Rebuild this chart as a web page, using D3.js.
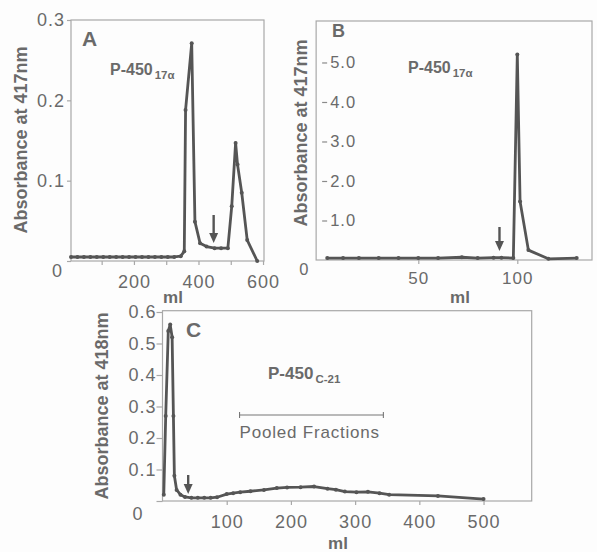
<!DOCTYPE html>
<html>
<head>
<meta charset="utf-8">
<script src="https://cdn.jsdelivr.net/npm/d3@7"></script>
<style>
  body { margin: 0; background: #fdfdfd; }
  svg { display: block; }
  text { font-family: "Liberation Sans", Arial, sans-serif; fill: #6a6a6a; }
</style>
</head>
<body>
<script>
// elution profiles, values
var a_volume = [5, 25, 45, 65, 85, 105, 125, 145, 165, 185, 205, 225, 245, 265, 285, 305, 325, 345,
                356, 360, 379, 389, 405, 425, 450, 470, 491, 503, 515, 521, 534, 551, 582];
var a_abs = [0.005, 0.005, 0.005, 0.005, 0.005, 0.005, 0.005, 0.005, 0.005, 0.005, 0.005, 0.005,
             0.005, 0.005, 0.005, 0.005, 0.005, 0.006,
             0.012, 0.188, 0.271, 0.049, 0.022, 0.018, 0.016, 0.016, 0.016, 0.068, 0.147, 0.12, 0.085, 0.026, 0.0];

var b_volume = [4, 12, 20, 30, 40, 50, 60, 72, 80, 88, 92, 98, 100, 101.4, 105.6, 115.7, 130];
var b_abs = [0.05, 0.05, 0.05, 0.05, 0.05, 0.05, 0.05, 0.07, 0.05, 0.06, 0.06, 0.05, 5.2, 1.48, 0.25, 0.03, 0.05];

var c_volume = [2, 5, 9, 12, 15, 17, 18.5, 22, 28, 35, 45, 55, 65, 75, 85, 100, 110, 121, 137, 158, 178, 194,
                215, 236, 257, 270, 284, 302, 320, 338, 353, 429, 500];
var c_abs = [0.02, 0.27, 0.54, 0.56, 0.52, 0.27, 0.08, 0.035, 0.02, 0.013, 0.01, 0.01, 0.01, 0.01, 0.012,
             0.022, 0.025, 0.028, 0.031, 0.035, 0.041, 0.043, 0.044, 0.046, 0.039, 0.036, 0.03, 0.028,
             0.029, 0.025, 0.02, 0.016, 0.006];

var a_yticks = [0, 0.1, 0.2, 0.3];
var a_xticks = [100, 200, 300, 400, 500, 600];
var a_xlabels = [200, 400, 600];
var b_yticks = [0, 1, 2, 3, 4, 5];
var b_xticks = [50, 100];
var c_yticks = [0, 0.1, 0.2, 0.3, 0.4, 0.5, 0.6];
var c_xticks = [100, 200, 300, 400, 500];
var pooled_range = [120, 344];

var line_color = "#555";
var frame_color = "#a8a8a8";

var svg = d3.select("body").append("svg").attr("width", 597).attr("height", 552);

function drawSeries(g, x, y, vol, abs)
{
  var pts = vol.map(function(v, i) { return [v, abs[i]]; });
  var line = d3.line().x(function(d) { return x(d[0]); }).y(function(d) { return y(d[1]); });
  g.append("path").datum(pts)
    .attr("d", line)
    .attr("fill", "none")
    .attr("stroke", line_color)
    .attr("stroke-width", 2.8)
    .attr("stroke-linejoin", "round");
  g.selectAll("circle.pt").data(pts).enter().append("circle")
    .attr("class", "pt")
    .attr("cx", function(d) { return x(d[0]); })
    .attr("cy", function(d) { return y(d[1]); })
    .attr("r", 2)
    .attr("fill", line_color);
}

function drawFrame(g, x0, x1, y0, y1)
{
  g.append("rect")
    .attr("x", x0).attr("y", y0)
    .attr("width", x1 - x0).attr("height", y1 - y0)
    .attr("fill", "none")
    .attr("stroke", frame_color)
    .attr("stroke-width", 1.2);
}

function drawArrow(g, xp, ytop, ybot)
{
  g.append("line").attr("x1", xp).attr("x2", xp).attr("y1", ytop).attr("y2", ybot - 6)
    .attr("stroke", line_color).attr("stroke-width", 2.4);
  g.append("path")
    .attr("d", "M" + (xp - 4.5) + "," + (ybot - 10) + "L" + (xp + 4.5) + "," + (ybot - 10) + "L" + xp + "," + ybot + "Z")
    .attr("fill", line_color);
}

function pLabel(g, xp, yp, size, sub, subSize)
{
  var t = g.append("text").attr("x", xp).attr("y", yp)
    .attr("font-size", size).attr("font-weight", "bold");
  t.append("tspan").text("P-450");
  t.append("tspan").attr("dy", 4).attr("dx", 2).attr("font-size", subSize).text(sub);
}

function styleAxis(sel)
{
  sel.select(".domain").remove();
  sel.selectAll(".tick line").attr("stroke", frame_color).attr("stroke-width", 1.2);
  sel.selectAll(".tick text").style("fill", "#6a6a6a")
    .style("font-family", "Liberation Sans, Arial, sans-serif")
    .style("letter-spacing", "1px");
}

function yLabel(g, cx, cy, txt)
{
  g.append("text")
    .attr("transform", "translate(" + cx + "," + cy + ") rotate(-90)")
    .attr("text-anchor", "middle")
    .attr("dy", "0.35em")
    .attr("font-size", 18)
    .attr("font-weight", "bold")
    .text(txt);
}

function xLabel(g, cx, by)
{
  g.append("text").attr("x", cx).attr("y", by)
    .attr("text-anchor", "middle")
    .attr("font-size", 17)
    .attr("font-weight", "bold")
    .text("ml");
}

// Panel A
var ax = d3.scaleLinear().domain([5, 603]).range([71, 264]);
var ay = d3.scaleLinear().domain([0, 0.3]).range([261, 20]);
var gA = svg.append("g");
drawFrame(gA, ax(5), ax(603), ay(0.3), ay(0));

gA.append("g").attr("transform", "translate(0," + ay(0) + ")")
  .call(d3.axisBottom(ax).tickValues(a_xticks).tickSize(4).tickPadding(10)
        .tickFormat(function(d) { return a_xlabels.indexOf(d) >= 0 ? d : ""; }))
  .call(styleAxis)
  .selectAll("text").attr("font-size", 18);

gA.append("g").attr("transform", "translate(" + ax(5) + ",0)")
  .call(d3.axisLeft(ay).tickValues(a_yticks).tickSize(4).tickPadding(4)
        .tickFormat(function(d) { return d === 0 ? "0" : d3.format(".1f")(d); }))
  .call(styleAxis)
  .selectAll("text").attr("font-size", 18)
  .attr("dy", function(d) { return d === 0 ? "0.85em" : "0.32em"; })
  .attr("x", function(d) { return d === 0 ? -8 : -6; });

drawSeries(gA, ax, ay, a_volume, a_abs);
drawArrow(gA, ax(447), 215, 243);
gA.append("text").attr("x", 82).attr("y", 46).attr("font-size", 21).attr("font-weight", "bold").text("A");
pLabel(gA, 110, 75, 16, "17\u03b1", 11.5);
yLabel(gA, 21, 140, "Absorbance at 417nm");
xLabel(gA, 173, 303);

// Panel B
var bx = d3.scaleLinear().domain([0, 140]).range([319.3, 596.5]);
var by = d3.scaleLinear().domain([0, 6.05]).range([260, 21]);
var gB = svg.append("g");
drawFrame(gB, bx(-1.6), 592, by(6.05), by(0));

gB.append("g").attr("transform", "translate(0," + by(0) + ")")
  .call(d3.axisBottom(bx).tickValues(b_xticks).tickSize(4).tickPadding(8))
  .call(styleAxis)
  .selectAll("text").attr("font-size", 17);

// y ticks of B sit just inside the frame, labels inside too
var bAxis = gB.append("g").attr("transform", "translate(" + bx(-1.6) + ",0)")
  .call(d3.axisRight(by).tickValues(b_yticks).tickSize(0).tickPadding(14)
        .tickFormat(function(d) { return d === 0 ? "0" : d3.format(".1f")(d); }))
  .call(styleAxis);
bAxis.selectAll(".tick").append("line")
  .attr("x1", 6).attr("x2", 11)
  .attr("stroke", "#8a8a8a").attr("stroke-width", 1.2)
  .filter(function(d) { return d === 0; }).remove();
bAxis.selectAll("text").attr("font-size", 16.5)
  .attr("x", function(d) { return d === 0 ? -17 : 14; })
  .attr("dy", function(d) { return d === 0 ? "0.85em" : "0.32em"; });

drawSeries(gB, bx, by, b_volume, b_abs);
drawArrow(gB, bx(91), 227, 251);
gB.append("text").attr("x", 332).attr("y", 37).attr("font-size", 18).attr("font-weight", "bold").text("B");
pLabel(gB, 408, 73, 16, "17\u03b1", 11.5);
yLabel(gB, 301, 133, "Absorbance at 417nm");
xLabel(gB, 460, 303);

// Panel C
var cx = d3.scaleLinear().domain([0, 575]).range([162.5, 531.7]);
var cy = d3.scaleLinear().domain([0, 0.6]).range([501, 312]);
var gC = svg.append("g");
drawFrame(gC, cx(0), cx(575), 310.7, cy(0));

gC.append("g").attr("transform", "translate(0," + cy(0) + ")")
  .call(d3.axisBottom(cx).tickValues(c_xticks).tickSize(4).tickPadding(10))
  .call(styleAxis)
  .selectAll("text").attr("font-size", 18);

gC.append("g").attr("transform", "translate(" + cx(0) + ",0)")
  .call(d3.axisLeft(cy).tickValues(c_yticks).tickSize(6).tickPadding(2)
        .tickFormat(function(d) { return d === 0 ? "0" : d3.format(".1f")(d); }))
  .call(styleAxis)
  .selectAll("text").attr("font-size", 18)
  .attr("x", function(d) { return d === 0 ? -19 : -6; })
  .attr("dy", function(d) { return d === 0 ? "1em" : "0.32em"; });

drawSeries(gC, cx, cy, c_volume, c_abs);
drawArrow(gC, cx(40), 475, 494);
gC.append("text").attr("x", 186).attr("y", 337).attr("font-size", 21).attr("font-weight", "bold").text("C");
pLabel(gC, 268, 379, 17, "C-21", 11.5);

// pooled fractions bar
var py = 415;
gC.append("line").attr("x1", cx(pooled_range[0])).attr("x2", cx(pooled_range[1]))
  .attr("y1", py).attr("y2", py).attr("stroke", "#777").attr("stroke-width", 1.1);
gC.selectAll("line.cap").data(pooled_range).enter().append("line")
  .attr("class", "cap")
  .attr("x1", function(d) { return cx(d); }).attr("x2", function(d) { return cx(d); })
  .attr("y1", py - 3).attr("y2", py + 3)
  .attr("stroke", "#777").attr("stroke-width", 1.1);
gC.append("text").attr("x", cx(pooled_range[0])).attr("y", 438)
  .attr("font-size", 17).attr("letter-spacing", "0.8px").text("Pooled Fractions");

yLabel(gC, 102, 406, "Absorbance at 418nm");
xLabel(gC, 338, 549);
</script>
</body>
</html>
